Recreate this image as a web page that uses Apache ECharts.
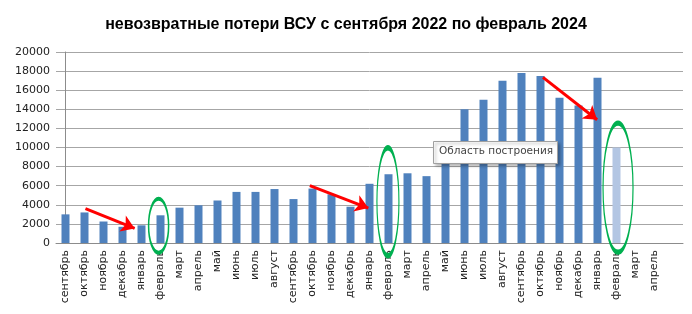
<!DOCTYPE html>
<html><head><meta charset="utf-8">
<script src="https://cdn.jsdelivr.net/npm/echarts@6/dist/echarts.min.js"></script>
<style>html,body{margin:0;padding:0;background:#fff}#c{width:692px;height:314px}</style>
</head><body><div id="c"></div>
<script>
const titleText = 'невозвратные потери ВСУ с сентября 2022 по февраль 2024';
const categories = ['сентябрь','октябрь','ноябрь','декабрь','январь','февраль','март','апрель','май','июнь','июль','август',
  'сентябрь','октябрь','ноябрь','декабрь','январь','февраль','март','апрель','май','июнь','июль','август',
  'сентябрь','октябрь','ноябрь','декабрь','январь','февраль','март','апрель',''];
const losses = [3000,3200,2250,1700,1850,2900,3700,3950,4450,5350,5350,5650,
  4600,5700,5100,3800,6200,7200,7300,7000,9500,14000,15000,17000,
  17800,17500,15200,14400,17300,10000,null,null,null];
const forecastIndex = 29;
const yTicks = {min:0, max:20000, interval:2000};
// annotations in data space: [categoryIndex, value]
const arrows = [
  [[1.05,3590],[3.64,1530]],
  [[12.86,6000],[15.94,3660]],
  [[25.13,17340],[27.98,12910]]
];
const ellipses = [
  {pos:[4.9,1810], size:[20,54]},
  {pos:[16.97,4320], size:[22,108]},
  {pos:[29.08,5790], size:[30,129]}
];
const plotAreaLabel = 'Область построения';

const chart = echarts.init(document.getElementById('c'), null, {renderer:'canvas'});
const barData = losses.map((v,i)=> i===forecastIndex ? {value:v, itemStyle:{color:'#b3c6e3'}} : v);
chart.setOption({
  animation:false,
  title:{text:titleText, left:'center', top:12,
    textStyle:{fontFamily:'Liberation Sans, sans-serif', fontWeight:'bold', fontSize:16, color:'#000'}},
  grid:{left:56, right:9, top:52, bottom:71},
  xAxis:[{type:'category', data:categories, boundaryGap:true,
      axisLine:{lineStyle:{color:'#8c8c8c'}}, axisTick:{show:false},
      axisLabel:{interval:0, rotate:90, margin:7, fontFamily:'DejaVu Sans', fontSize:11, color:'#222'}},
    {type:'value', min:-0.5, max:categories.length-0.5, show:false}],
  yAxis:{type:'value', min:yTicks.min, max:yTicks.max, interval:yTicks.interval,
    axisLine:{show:true, lineStyle:{color:'#8c8c8c'}}, axisTick:{show:false},
    splitLine:{lineStyle:{color:'#a6a6a6'}},
    axisLabel:{fontFamily:'DejaVu Sans', fontSize:11, color:'#222', margin:6, formatter:v=>String(v)}},
  series:[
    {type:'bar', data:barData, barWidth:8, itemStyle:{color:'#4f81bd'}, z:2},
    {type:'lines', coordinateSystem:'cartesian2d', xAxisIndex:1, yAxisIndex:0,
      symbol:['none','arrow'], symbolSize:13,
      lineStyle:{color:'#ff0000', width:3, opacity:1, curveness:0},
      data:arrows.map(a=>({coords:a})), z:5},
    {type:'scatter', xAxisIndex:1, yAxisIndex:0, symbol:'circle',
      data:ellipses.map(e=>({value:e.pos, symbolSize:e.size})),
      itemStyle:{color:'rgba(0,0,0,0)', borderColor:'#00b050', borderWidth:2.5, opacity:1}, z:6}
  ],
  graphic:[
    {type:'rect', left:433, top:141, z:10, shape:{width:124, height:22},
      style:{fill:'#fff', stroke:'#a0a0a0', lineWidth:1, shadowBlur:3, shadowOffsetX:2, shadowOffsetY:2, shadowColor:'rgba(0,0,0,0.3)'}},
    {type:'text', left:439, top:146, z:11,
      style:{text:plotAreaLabel, font:'10.5px DejaVu Sans', fill:'#444'}}
  ]
});
</script></body></html>
